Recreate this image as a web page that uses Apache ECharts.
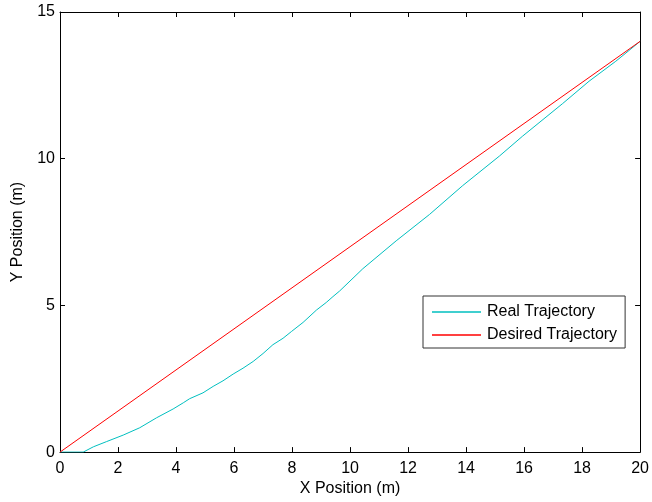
<!DOCTYPE html>
<html>
<head>
<meta charset="utf-8">
<script src="https://cdn.jsdelivr.net/npm/echarts@6/dist/echarts.min.js"></script>
<style>
html,body{margin:0;padding:0;background:#fff;}
#c{width:652px;height:502px;}
</style>
</head>
<body>
<div id="c"></div>
<script>
const seriesNames = ['Real Trajectory', 'Desired Trajectory'];
const realX = [0, 0.8, 1.15, 1.61, 2.18, 2.75, 3.33, 3.9, 4.25, 4.47, 4.93, 5.28, 5.62, 5.97, 6.31, 6.66, 7.0, 7.34, 7.69, 7.98, 8.38, 8.84, 9.18, 9.41, 9.64, 10.44, 11.59, 12.74, 13.88, 15.15, 15.95, 17.33, 18.24, 19.16, 19.62, 20];
const realY = [0, 0, 0.18, 0.36, 0.58, 0.83, 1.17, 1.47, 1.68, 1.82, 2.02, 2.24, 2.43, 2.66, 2.86, 3.09, 3.36, 3.66, 3.88, 4.11, 4.42, 4.84, 5.1, 5.3, 5.49, 6.25, 7.2, 8.1, 9.08, 10.09, 10.77, 11.88, 12.64, 13.32, 13.69, 14];
const desiredX = [0, 20];
const desiredY = [0, 14];
const xTicks = [0, 2, 4, 6, 8, 10, 12, 14, 16, 18, 20];
const yTicks = [0, 5, 10, 15];
const xName = 'X Position (m)';
const yName = 'Y Position (m)';

const FONT = '"Liberation Sans", Arial, sans-serif';
const AX = '#000';

function zip(a, b) { return a.map((v, i) => [v, b[i]]); }

const baseX = {
  type: 'value', min: xTicks[0], max: xTicks[xTicks.length - 1], interval: xTicks[1] - xTicks[0],
  axisLine: { show: true, onZero: false, lineStyle: { color: AX, width: 1 } },
  axisTick: { show: true, inside: true, length: 5, lineStyle: { color: AX } },
  splitLine: { show: false }
};
const baseY = {
  type: 'value', min: yTicks[0], max: yTicks[yTicks.length - 1], interval: yTicks[1] - yTicks[0],
  axisLine: { show: true, onZero: false, lineStyle: { color: AX, width: 1 } },
  axisTick: { show: true, inside: true, length: 5, lineStyle: { color: AX } },
  splitLine: { show: false }
};

const chart = echarts.init(document.getElementById('c'), null, { renderer: 'canvas' });
chart.setOption({
  animation: false,
  backgroundColor: '#fff',
  grid: { left: 60, right: 11, top: 12, bottom: 47, containLabel: false },
  xAxis: [
    Object.assign({}, baseX, {
      position: 'bottom',
      name: xName, nameLocation: 'middle', nameGap: 27,
      nameTextStyle: { color: AX, fontSize: 16, fontFamily: FONT },
      axisLabel: { show: true, margin: 8, color: AX, fontSize: 16, fontFamily: FONT }
    }),
    Object.assign({}, baseX, { position: 'top', axisLabel: { show: false } })
  ],
  yAxis: [
    Object.assign({}, baseY, {
      position: 'left',
      name: yName, nameLocation: 'middle', nameGap: 34,
      nameTextStyle: { color: AX, fontSize: 16, fontFamily: FONT },
      axisLabel: { show: true, margin: 5, color: AX, fontSize: 16, fontFamily: FONT }
    }),
    Object.assign({}, baseY, { position: 'right', axisLabel: { show: false } })
  ],
  legend: {
    data: seriesNames,
    orient: 'vertical',
    left: 423, top: 296,
    backgroundColor: '#fff',
    borderColor: '#333', borderWidth: 1,
    padding: [8, 8, 5, 9],
    itemGap: 7,
    itemWidth: 49, itemHeight: 1.5,
    icon: 'rect',
    textStyle: { color: AX, fontSize: 16, fontFamily: FONT, padding: [0, 0, 0, 1] }
  },
  series: [
    {
      name: seriesNames[0], type: 'line', data: zip(realX, realY),
      showSymbol: false, symbol: 'none', clip: true,
      lineStyle: { color: '#00BFBF', width: 1 }, itemStyle: { color: '#00BFBF' }
    },
    {
      name: seriesNames[1], type: 'line', data: zip(desiredX, desiredY),
      showSymbol: false, symbol: 'none', clip: true,
      lineStyle: { color: '#FF0000', width: 1 }, itemStyle: { color: '#FF0000' }
    }
  ]
});
</script>
</body>
</html>
